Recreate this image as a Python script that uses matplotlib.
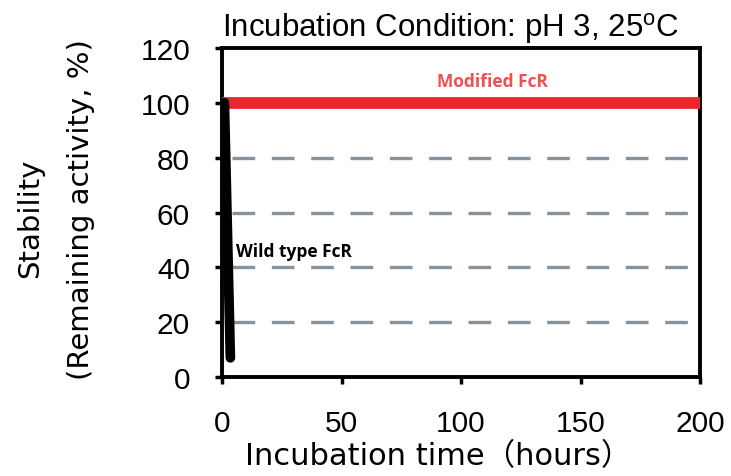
import matplotlib
matplotlib.use("Agg")
import matplotlib.pyplot as plt

# Data
modified_t = [0, 200]
modified_v = [100, 100]
wild_t = [1, 3.5]
wild_v = [100, 7]
grid_levels = [20, 40, 60, 80]
x_ticks = [0, 50, 100, 150, 200]
y_ticks = [0, 20, 40, 60, 80, 100, 120]

plt.rcParams['mathtext.fontset'] = 'custom'
plt.rcParams['mathtext.rm'] = 'Liberation Sans'

fig = plt.figure(figsize=(7.31, 4.77), dpi=100)
ax = fig.add_axes([0.3037, 0.2075, 0.6539, 0.6898])

for g in grid_levels:
    ax.axhline(g, xmin=0.02, xmax=1, color='#86939d', lw=2.4, dashes=(6.8, 5.0), zorder=1)

ax.plot(modified_t, modified_v, color='#e8282a', lw=8.5, solid_capstyle='butt', zorder=3, clip_on=False)
ax.plot(wild_t, wild_v, color='black', lw=7, solid_capstyle='round', zorder=4)

ax.text(113, 108, 'Modified FcR', color='#f05050', fontsize=12.5, fontweight='bold',
        ha='center', va='center', family='Open Sans')
ax.text(6, 46, 'Wild type FcR', color='black', fontsize=12.5, fontweight='bold',
        ha='left', va='center', family='Open Sans')

ax.set_xlim(0, 200)
ax.set_ylim(0, 120)
ax.set_xticks(x_ticks)
ax.set_yticks(y_ticks)
ax.tick_params(axis='both', direction='out', length=5, width=2.5, labelsize=21.5, pad=18)
for lab in ax.get_xticklabels() + ax.get_yticklabels():
    lab.set_family('Liberation Sans')
for s in ax.spines.values():
    s.set_linewidth(2.8)
    s.set_color('black')

fig.text(0.617, 0.94, r'Incubation Condition: pH 3, 25$^{\mathrm{o}}$C', ha='center', va='center',
         fontsize=22.5, family='Liberation Sans')
fig.text(0.60, 0.042, 'Incubation time（hours）', ha='center', va='center',
         fontsize=22, family=['DejaVu Sans', 'Noto Sans CJK JP'])
fig.text(0.041, 0.543, 'Stability', rotation=90, ha='center', va='center',
         fontsize=21, family='DejaVu Sans')
fig.text(0.111, 0.56, '(Remaining activity, %)', rotation=90, ha='center', va='center',
         fontsize=21, family='DejaVu Sans')

fig.savefig('out.png', dpi=100)
